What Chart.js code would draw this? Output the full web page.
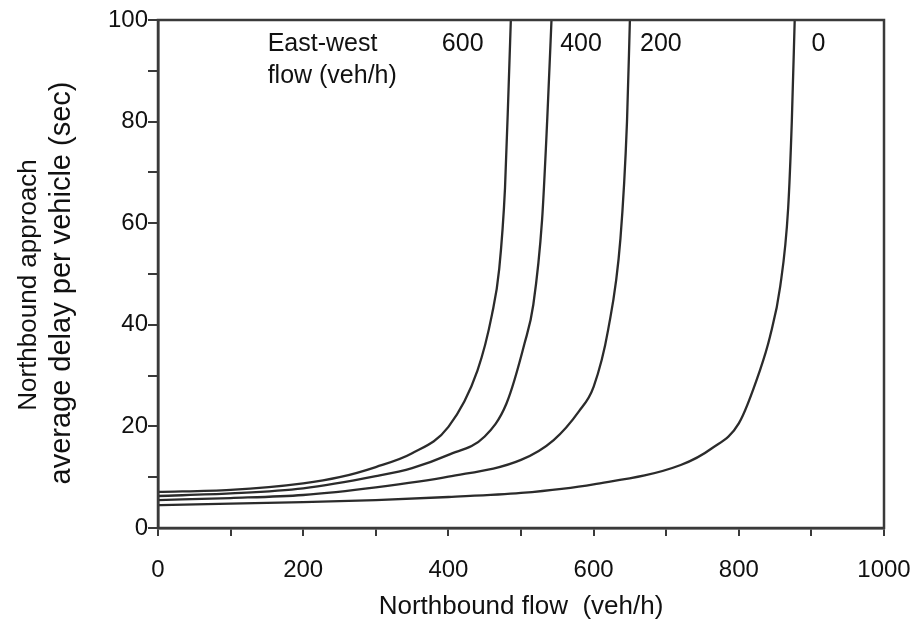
<!DOCTYPE html>
<html>
<head>
<meta charset="utf-8">
<script src="https://cdn.jsdelivr.net/npm/chart.js@4"></script>
<style>
  html, body { margin: 0; padding: 0; background: #fff; }
  #wrap { width: 915px; height: 625px; }
</style>
</head>
<body>
<div id="wrap"><canvas id="grafico"></canvas></div>
<script>
// northbound flow (veh/h) and delay (sec), one pair of arrays per east-west flow
const flow600 = [0, 100, 200, 250, 300, 350, 400, 440, 460, 470, 478, 483, 486];
const delay600 = [7.1, 7.5, 8.8, 10, 12, 14.7, 19.9, 31, 42, 51, 67, 87, 100];

const flow400 = [0, 100, 200, 300, 350, 400, 450, 480, 505, 517, 529, 536, 542];
const delay400 = [6.3, 6.8, 7.8, 10.2, 11.8, 14.4, 18, 24.5, 36.4, 44, 60.6, 80, 100];

const flow200 = [0, 100, 200, 300, 400, 500, 545, 580, 600, 620, 637, 646, 650];
const delay200 = [5.5, 5.9, 6.5, 8, 10.1, 13.4, 17.3, 23, 27.8, 39, 57, 80, 100];

const flow0 = [0, 100, 200, 300, 400, 500, 600, 720, 763, 800, 829, 843, 857, 868, 873, 877];
const delay0 = [4.5, 4.8, 5.1, 5.5, 6.1, 6.9, 8.6, 12.4, 15.7, 20.6, 31, 37.7, 47.5, 63, 80, 100];

const xTickLabels = ['0', '200', '400', '600', '800', '1000'];
const yTickLabels = ['0', '20', '40', '60', '80', '100'];

// curve labels inside the plot (data coordinates)
const labelTexts = ['East-west', 'flow (veh/h)', '600', '400', '200', '0'];
const labelFlow = [151, 151, 391, 554, 664, 900];
const labelDelay = [93.8, 87.6, 93.8, 93.8, 93.8, 93.8];

const corLinha = '#2b2b2b';
const fonte = '"Liberation Sans", Arial, sans-serif';

function pares(xs, ys) {
    return xs.map((x, i) => ({ x: x, y: ys[i] }));
}

function serie(nome, xs, ys) {
    return {
        label: nome,
        data: pares(xs, ys),
        borderColor: corLinha,
        borderWidth: 2.3,
        pointRadius: 0,
        fill: false,
        cubicInterpolationMode: 'monotone'
    };
}

const textosPlugin = {
    id: 'textos',
    afterDraw(chart) {
        const ctx = chart.ctx;
        const area = chart.chartArea;
        const sx = chart.scales.x;
        const sy = chart.scales.y;

        // caixa em volta da area do grafico
        ctx.save();
        ctx.strokeStyle = '#3a3a3a';
        ctx.lineWidth = 2.5;
        ctx.strokeRect(area.left, area.top, area.right - area.left, area.bottom - area.top);

        ctx.fillStyle = '#111';
        ctx.font = '25px ' + fonte;
        ctx.textAlign = 'left';
        ctx.textBaseline = 'alphabetic';
        labelTexts.forEach((t, i) => {
            ctx.fillText(t, sx.getPixelForValue(labelFlow[i]), sy.getPixelForValue(labelDelay[i]));
        });

        // titulo do eixo x
        ctx.font = '26px ' + fonte;
        ctx.textAlign = 'center';
        ctx.fillText('Northbound flow  (veh/h)', (area.left + area.right) / 2, 614);

        // titulo do eixo y (duas linhas)
        const cy = (area.top + area.bottom) / 2;
        ctx.translate(0, cy);
        ctx.rotate(-Math.PI / 2);
        ctx.font = '26px ' + fonte;
        ctx.fillText('Northbound approach', -11, 36);
        ctx.font = '29px ' + fonte;
        ctx.fillText('average delay per vehicle (sec)', -9, 70);
        ctx.restore();
    }
};

document.addEventListener('DOMContentLoaded', function () {
    const ctx = document.getElementById('grafico').getContext('2d');
    new Chart(ctx, {
        type: 'line',
        data: {
            datasets: [
                serie('600', flow600, delay600),
                serie('400', flow400, delay400),
                serie('200', flow200, delay200),
                serie('0', flow0, delay0)
            ]
        },
        options: {
            responsive: true,
            maintainAspectRatio: false,
            animation: false,
            layout: { padding: { top: 20, right: 31, left: 0, bottom: 0 } },
            plugins: {
                legend: { display: false },
                tooltip: { enabled: false }
            },
            scales: {
                x: {
                    type: 'linear',
                    min: 0,
                    max: 1000,
                    afterFit: (s) => {
                        s.height = 97;
                        s.paddingLeft = 0;
                        s.paddingRight = 0;
                    },
                    border: { display: true, color: '#3a3a3a', width: 2.5 },
                    grid: { drawOnChartArea: false, drawTicks: true, tickLength: 8, color: '#3a3a3a', lineWidth: 2 },
                    ticks: {
                        stepSize: 100,
                        padding: 20,
                        color: '#111',
                        font: { family: fonte, size: 24 },
                        maxRotation: 0,
                        autoSkip: false,
                        callback: (v) => (v % 200 === 0 ? xTickLabels[v / 200] : '')
                    }
                },
                y: {
                    type: 'linear',
                    min: 0,
                    max: 100,
                    afterFit: (s) => {
                        s.width = 158;
                        s.paddingTop = 0;
                        s.paddingBottom = 0;
                    },
                    border: { display: true, color: '#3a3a3a', width: 2.5 },
                    grid: { drawOnChartArea: false, drawTicks: true, tickLength: 10, color: '#3a3a3a', lineWidth: 2 },
                    ticks: {
                        stepSize: 10,
                        padding: 0,
                        color: '#111',
                        font: { family: fonte, size: 24 },
                        autoSkip: false,
                        callback: (v) => (v % 20 === 0 ? yTickLabels[v / 20] : '')
                    }
                }
            }
        },
        plugins: [textosPlugin]
    });
});
</script>
</body>
</html>
